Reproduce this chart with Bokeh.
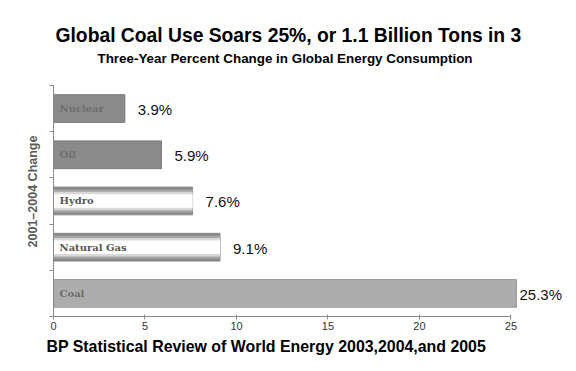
from bokeh.plotting import figure
from bokeh.models import ColumnDataSource, Range1d, FixedTicker, Title
from bokeh.core.properties import value
from bokeh.embed import file_html
from bokeh.resources import INLINE

# ---------------- data ----------------
categories = ["Coal", "Natural Gas", "Hydro", "Oil", "Nuclear"]   # bottom -> top
changes = [25.3, 9.1, 7.6, 5.9, 3.9]                               # percent change 2001-2004
x_ticks = [0, 5, 10, 15, 20, 25]

title_text = "Global Coal Use Soars 25%, or 1.1 Billion Tons in 3"
subtitle_text = "Three-Year Percent Change in Global Energy Consumption"
source_text = "BP Statistical Review of World Energy 2003,2004,and 2005"
y_label = "2001–2004 Change"

# ---------------- styling ----------------
bar_kind = {"Coal": "light", "Natural Gas": "tube", "Hydro": "tube", "Oil": "dark", "Nuclear": "dark"}
flat_fill = {"light": "#acacac", "dark": "#8a8a8a"}
flat_line = {"light": "#9a9a9a", "dark": "#7c7c7c"}
inner_text_color = {"light": "#6c6c6c", "dark": "#6e6e6e", "tube": "#555555"}
tube_layers = [(0.60, "#888888"), (0.50, "#a6a6a6"), (0.40, "#d8d8d8"), (0.29, "#ffffff")]
value_offset = {"Coal": 3}
BAR_H = 0.60

ys = list(range(len(categories)))
labels = [f"{v:.1f}%" for v in changes]
boundaries = [y - 0.5 for y in ys] + [ys[-1] + 0.5]

p = figure(width=576, height=371, title=None, output_backend="svg", toolbar_location=None,
           x_range=Range1d(0, 28.58), y_range=Range1d(-0.5, 4.91),
           min_border_left=53, min_border_right=0, min_border_top=66, min_border_bottom=55)
p.outline_line_color = None
p.xgrid.visible = False
p.ygrid.visible = False
p.background_fill_color = "white"
p.border_fill_color = "white"

# flat bars
fi = [i for i, c in enumerate(categories) if bar_kind[c] != "tube"]
flat_src = ColumnDataSource(dict(
    y=[ys[i] for i in fi], right=[changes[i] for i in fi],
    fill=[flat_fill[bar_kind[categories[i]]] for i in fi],
    line=[flat_line[bar_kind[categories[i]]] for i in fi]))
p.hbar(y="y", left=0, right="right", height=BAR_H, fill_color="fill", line_color="line",
       line_width=1, source=flat_src)

# tube-like bars (Hydro, Natural Gas)
ti = [i for i, c in enumerate(categories) if bar_kind[c] == "tube"]
tube_src = ColumnDataSource(dict(y=[ys[i] for i in ti], right=[changes[i] for i in ti]))
for k, (h, col) in enumerate(tube_layers):
    p.hbar(y="y", left=0, right="right", height=h, fill_color=col,
           line_color="#8a8a8a" if k == 0 else None, line_width=1, source=tube_src)

# names inside bars
name_src = ColumnDataSource(dict(x=[0] * len(categories), y=ys, text=categories,
                                 color=[inner_text_color[bar_kind[c]] for c in categories]))
p.text(x="x", y="y", text="text", source=name_src, x_offset=6, text_baseline="middle",
       text_align="left", text_color="color", text_font=value("DejaVu Serif"),
       text_font_style="bold", text_font_size="10px")

# value labels
val_src = ColumnDataSource(dict(x=changes, y=ys, text=labels,
                                off=[value_offset.get(c, 13) for c in categories]))
p.text(x="x", y="y", text="text", source=val_src, x_offset="off", y_offset=1,
       text_baseline="middle", text_align="left", text_color="#111111",
       text_font=value("Liberation Sans"), text_font_size="15px")

# axes
xa = p.xaxis[0]
xa.ticker = FixedTicker(ticks=x_ticks)
xa.bounds = (0, 25)
xa.axis_line_color = "#8a8a8a"
xa.major_tick_line_color = "#8a8a8a"
xa.major_tick_in = 2
xa.major_tick_out = 3
xa.minor_tick_line_color = None
xa.major_label_text_font = "Liberation Sans"
xa.major_label_text_font_size = "11px"
xa.major_label_text_color = "#333333"
xa.major_label_standoff = 2

ya = p.yaxis[0]
ya.ticker = FixedTicker(ticks=[], minor_ticks=boundaries)
ya.bounds = (-0.5, 4.5)
ya.axis_line_color = "#8a8a8a"
ya.major_tick_line_color = None
ya.major_tick_out = 4
ya.minor_tick_line_color = "#8a8a8a"
ya.minor_tick_in = 0
ya.minor_tick_out = 4
ya.major_label_standoff = 0
ya.axis_label = y_label
ya.axis_label_text_font = "Liberation Sans"
ya.axis_label_text_font_style = "bold"
ya.axis_label_text_font_size = "12.5px"
ya.axis_label_text_color = "#5a5a5a"
ya.axis_label_standoff = 10

# titles
p.add_layout(Title(text=subtitle_text, align="left", offset=44, standoff=2,
                   text_font="Liberation Sans", text_font_style="bold",
                   text_font_size="13.4px", text_color="#000000"), "above")
p.add_layout(Title(text=title_text, align="left", offset=2, standoff=4,
                   text_font="Liberation Sans", text_font_style="bold",
                   text_font_size="19.3px", text_color="#000000"), "above")
p.add_layout(Title(text=source_text, align="left", offset=-7, standoff=7,
                   text_font="Liberation Sans", text_font_style="bold",
                   text_font_size="15.9px", text_color="#000000"), "below")

open("out.html", "w").write(file_html(p, INLINE))
